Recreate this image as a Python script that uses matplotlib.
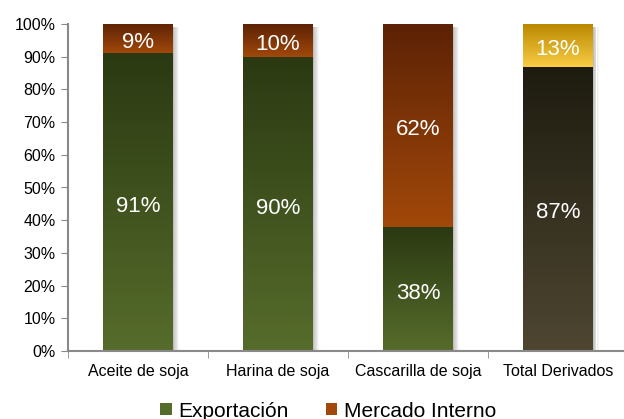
import numpy as np
import matplotlib.pyplot as plt
from matplotlib.colors import LinearSegmentedColormap
from matplotlib.patches import Rectangle

plt.rcParams['font.family'] = ['Liberation Sans', 'DejaVu Sans']

# Data
categories = ["Aceite de soja", "Harina de soja", "Cascarilla de soja", "Total Derivados"]
exportacion = [91, 90, 38, 87]
mercado_interno = [9, 10, 62, 13]

# gradient colours (top, bottom) per segment
green = ("#2b3912", "#566c2b")
brown = ("#5c2205", "#a2480a")
dark = ("#1e1c10", "#4e4631")
gold = ("#b98800", "#f9cd45")

fig = plt.figure(figsize=(6.24, 4.19), dpi=100)
ax = fig.add_axes([68 / 624, (419 - 351) / 419, 560 / 624, 327 / 419])

x = np.arange(len(categories))
w = 0.5
bars_exp = ax.bar(x, exportacion, w, color="none", edgecolor="none", zorder=3)
bars_int = ax.bar(x, mercado_interno, w, bottom=exportacion, color="none", edgecolor="none", zorder=3)


def fill_gradient(bar, top, bottom):
    x0, y0 = bar.get_x(), bar.get_y()
    x1, y1 = x0 + bar.get_width(), y0 + bar.get_height()
    cmap = LinearSegmentedColormap.from_list("g", [bottom, top])
    grad = np.linspace(0, 1, 256).reshape(-1, 1)
    im = ax.imshow(grad, cmap=cmap, extent=[x0, x1, y0, y1], origin="lower",
                   aspect="auto", zorder=2.5)
    im.set_clip_path(bar)


def shadow(bar_lo, bar_hi):
    # soft gray shadow on the right side
    x1 = bar_lo.get_x() + bar_lo.get_width()
    y0 = bar_lo.get_y()
    h = bar_hi.get_y() + bar_hi.get_height() - y0
    n = 8
    for i in range(n):
        ax.add_patch(Rectangle((x1 + i * 0.005, y0), 0.005, h - 0.8,
                               facecolor="#6e6e6e", alpha=0.45 * (1 - i / n),
                               edgecolor="none", zorder=2))


for i in range(len(categories)):
    shadow(bars_exp[i], bars_int[i])
    if i == 3:
        fill_gradient(bars_exp[i], *dark)
        fill_gradient(bars_int[i], *gold)
    else:
        fill_gradient(bars_exp[i], *green)
        fill_gradient(bars_int[i], *brown)

# value labels, centred in each segment
for i in range(len(categories)):
    e, m = exportacion[i], mercado_interno[i]
    for val, yc in [(e, e / 2), (m, e + m / 2)]:
        ax.annotate(f"{val}%", (x[i], yc), xytext=(0, -3), textcoords="offset points",
                    ha="center", va="center", color="white", fontsize=16, zorder=5)

ax.set_xlim(-0.5, len(categories) - 0.5)
ax.set_ylim(0, 100)
ax.set_yticks(np.arange(0, 101, 10))
ax.set_yticklabels([f"{v}%" for v in range(0, 101, 10)])
ax.set_xticks(x)
ax.set_xticklabels(categories)
ax.set_xticks(np.arange(-0.5, len(categories), 1), minor=True)
ax.tick_params(axis="x", which="major", length=0, labelsize=11.5, pad=9)
ax.tick_params(axis="x", which="minor", length=5, color="#898989", direction="out")
ax.tick_params(axis="y", length=5, color="#898989", labelsize=11.5, pad=4)

for s in ["top", "right"]:
    ax.spines[s].set_visible(False)
for s in ["left", "bottom"]:
    ax.spines[s].set_color("#898989")
    ax.spines[s].set_linewidth(1.5)

handles = [Rectangle((0, 0), 1, 1, facecolor=green[1]), Rectangle((0, 0), 1, 1, facecolor=brown[1])]
fig.legend(handles, ["Exportación", "Mercado Interno"], loc="center", bbox_to_anchor=(328 / 624, 8 / 419),
           ncol=2, frameon=False, fontsize=15, handlelength=0.55, handleheight=0.55,
           handletextpad=0.3, columnspacing=1.8)

fig.savefig("out.png", dpi=100)
